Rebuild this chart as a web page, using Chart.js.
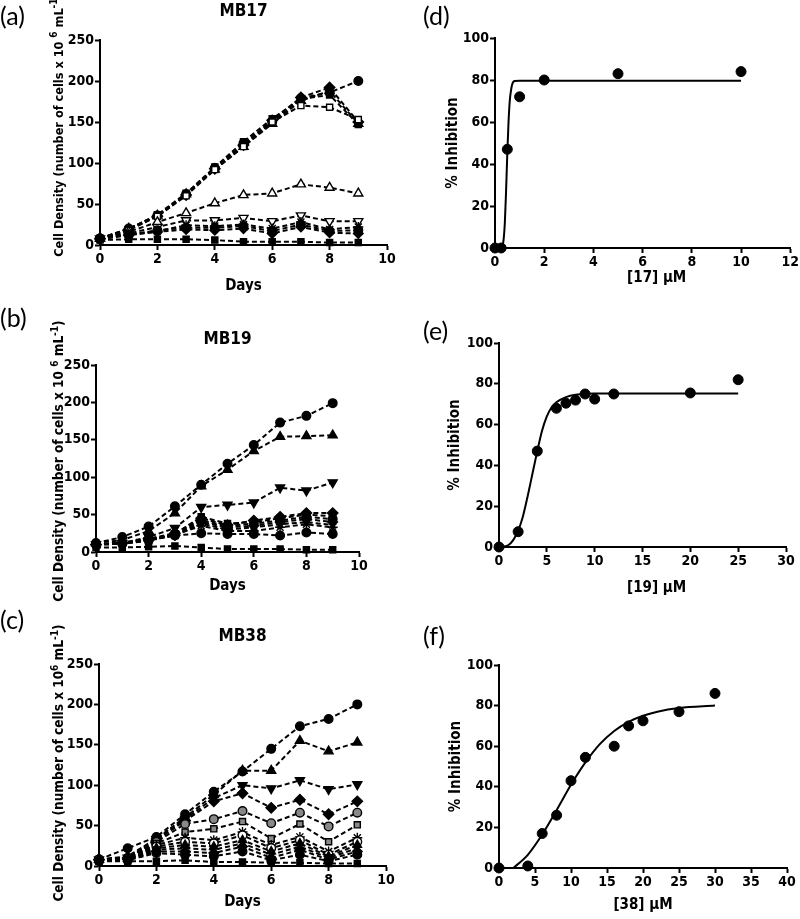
<!DOCTYPE html>
<html><head><meta charset="utf-8">
<script src="https://cdn.jsdelivr.net/npm/chart.js@4.4.1/dist/chart.umd.min.js"></script>
<style>
html,body{margin:0;padding:0;background:#fff;width:800px;height:919px;overflow:hidden;}
.panel{position:absolute;}
.lbl{position:absolute;font-family:Lato,'Open Sans',sans-serif;font-size:25px;color:#000;line-height:1;}
.ytitle{position:absolute;font:bold 13.5px 'DejaVu Sans Condensed','Liberation Sans',Arial,sans-serif;font-stretch:condensed;color:#000;white-space:nowrap;transform:translate(-50%,-50%) rotate(-90deg);}
.ytitle sup{font-size:10px;line-height:0;}
</style></head><body>
<div class="panel" style="left:0;top:0"><canvas id="ca" width="400" height="300"></canvas></div>
<div class="panel" style="left:0;top:300px"><canvas id="cb" width="400" height="300"></canvas></div>
<div class="panel" style="left:0;top:600px"><canvas id="cc" width="400" height="319"></canvas></div>
<div class="panel" style="left:400px;top:0"><canvas id="cd" width="400" height="300"></canvas></div>
<div class="panel" style="left:400px;top:300px"><canvas id="ce" width="400" height="300"></canvas></div>
<div class="panel" style="left:400px;top:600px"><canvas id="cf" width="400" height="319"></canvas></div>

<div class="lbl" style="left:0;top:3px">(a)</div>
<div class="lbl" style="left:0;top:305px">(b)</div>
<div class="lbl" style="left:0;top:607px">(c)</div>
<div class="lbl" style="left:423px;top:3px">(d)</div>
<div class="lbl" style="left:423px;top:318px">(e)</div>
<div class="lbl" style="left:423px;top:623px">(f)</div>

<div class="ytitle" style="left:58px;top:125px;font-size:12.6px">Cell Density (number of cells x 10 <sup>6</sup> mL<sup>-1</sup>)</div>
<div class="ytitle" style="left:58px;top:461px">Cell Density (number of cells x 10 <sup>6</sup> mL<sup>-1</sup>)</div>
<div class="ytitle" style="left:58px;top:763px">Cell Density (number of cells x 10<sup>6</sup> mL<sup>-1</sup>)</div>

<script>
// ---- shared axis values ----
const days = [0, 1, 2, 3, 4, 5, 6, 7, 8, 9];

// ---- (a) MB17 ----
const a_circle      = [8, 20, 36, 62, 94, 124, 150, 179, 186, 200];
const a_diamond     = [8, 19, 35, 61, 93, 122, 152, 180, 192, 150];
const a_triangle    = [8, 20, 36, 62, 92, 120, 148, 176, 188, 148];
const a_squareOpen  = [8, 18, 35, 60, 92, 120, 150, 170, 168, 153];
const a_square      = [8, 19, 37, 63, 95, 126, 154, 178, 183, 147];
const a_triOpen     = [8, 16, 28, 39, 51, 61, 63, 74, 70, 63];
const a_invTriOpen  = [8, 14, 22, 30, 30, 33, 29, 36, 29, 29];
const a_star        = [8, 13, 17, 24, 23, 25, 20, 28, 19, 22];
const a_circle2     = [8, 12, 18, 21, 21, 23, 17, 25, 17, 18];
const a_diamond2    = [7, 12, 16, 19, 18, 20, 14, 22, 15, 14];
const a_squareLow   = [6, 7, 7, 7, 6, 4, 4, 4, 3, 3];

// ---- (b) MB19 ----
const b_circle      = [12, 20, 34, 61, 90, 118, 143, 173, 182, 199];
const b_triangle    = [12, 16, 28, 52, 88, 110, 135, 154, 155, 156];
const b_invTri      = [10, 12, 20, 32, 60, 63, 66, 86, 82, 93];
const b_diamond     = [10, 12, 18, 25, 45, 36, 42, 47, 52, 52];
const b_s5          = [10, 12, 16, 24, 47, 38, 40, 45, 50, 48];
const b_s6          = [10, 12, 16, 24, 42, 35, 38, 42, 47, 44];
const b_s7          = [10, 12, 17, 22, 40, 33, 35, 40, 44, 40];
const b_s8          = [10, 11, 16, 22, 38, 30, 33, 37, 40, 36];
const b_star        = [10, 11, 15, 23, 35, 28, 28, 33, 37, 33];
const b_circle2     = [10, 11, 16, 22, 25, 24, 24, 22, 26, 24];
const b_squareLow   = [6, 6, 7, 8, 6, 4, 4, 4, 3, 3];

// ---- (c) MB38 ----
const c_circle      = [8, 22, 36, 64, 92, 117, 145, 173, 182, 200];
const c_triangle    = [8, 12, 34, 60, 88, 118, 118, 155, 142, 153];
const c_invTri      = [8, 10, 33, 58, 84, 100, 96, 106, 95, 101];
const c_diamond     = [8, 10, 32, 56, 80, 90, 72, 82, 64, 80];
const c_halfCircle  = [8, 10, 30, 52, 58, 68, 53, 66, 49, 66];
const c_halfSquare  = [8, 10, 28, 42, 46, 55, 34, 52, 30, 51];
const c_star        = [8, 10, 26, 35, 32, 42, 26, 36, 18, 35];
const c_s8          = [8, 9, 24, 30, 28, 38, 22, 32, 14, 30];
const c_s9          = [8, 9, 22, 26, 24, 32, 18, 28, 12, 26];
const c_s10         = [7, 8, 20, 22, 20, 28, 14, 24, 10, 22];
const c_s11         = [7, 8, 18, 18, 16, 24, 10, 20, 8, 18];
const c_s12         = [6, 7, 16, 14, 12, 18, 7, 14, 6, 14];
const c_squareLow   = [6, 6, 6, 7, 5, 5, 4, 4, 3, 3];

// ---- (d) compound 17 dose response ----
const d_conc  = [0, 0.25, 0.5, 1, 2, 5, 10];
const d_inhib = [0, 0, 47, 72, 80, 83, 84];
const d_fitX  = [0.2, 0.25, 0.3, 0.35, 0.4, 0.45, 0.5, 0.55, 0.6, 0.65, 0.7, 0.8, 1, 10];
const d_fitY  = [0, 0, 1, 4, 12, 27, 45, 60, 70, 75, 78, 79.5, 79.6, 79.6];

// ---- (e) compound 19 dose response ----
const e_conc  = [0, 2, 4, 6, 7, 8, 9, 10, 12, 20, 25];
const e_inhib = [0, 7.5, 47, 68, 70.5, 72, 75, 72.5, 75, 75.5, 82];
const e_fitX  = [0.3, 1, 1.5, 2, 2.5, 3, 3.5, 4, 4.5, 5, 5.5, 6, 7, 8, 10, 25];
const e_fitY  = [0, 1, 3.5, 8, 15, 25, 36, 47, 57, 64, 68.5, 71, 73.5, 74.6, 75.2, 75.3];

// ---- (f) compound 38 dose response ----
const f_conc  = [0, 4, 6, 8, 10, 12, 16, 18, 20, 25, 30];
const f_inhib = [0, 1, 17, 26, 43, 54.5, 60, 70, 72.5, 77, 86];
const f_fitX  = [2, 4, 6, 8, 10, 12, 14, 16, 18, 20, 22, 25, 30];
const f_fitY  = [0, 6.5, 16.5, 28.5, 41, 52, 61, 67.5, 72, 75, 77, 78.8, 80];

const FONT = "'DejaVu Sans Condensed', 'Liberation Sans', Arial, sans-serif";
Chart.defaults.font.family = FONT;
Chart.defaults.color = '#000';

function axis(min, max, step, titleText, lay, isX) {
  const o = {
    type: 'linear', min: min, max: max,
    border: {display: true, color: '#000', width: 2},
    grid: {display: true, drawOnChartArea: false, drawTicks: true, tickLength: 5, tickWidth: 2, tickColor: '#000', color: '#000'},
    ticks: {stepSize: step, color: '#000', font: {size: 14, weight: 'bold'}, padding: 1, maxRotation: 0, autoSkip: false},
    title: {display: !!titleText, text: titleText || '', color: '#000', font: {size: 15, weight: 'bold'}, padding: {top: 0, bottom: 0}}
  };
  if (isX) {
    o.title.padding = {top: 0, bottom: lay.xtB};
    o.afterFit = s => { s.height = lay.xH; };
  } else {
    o.title.padding = {top: lay.ytT || 0, bottom: 0};
    o.afterFit = s => { s.width = lay.yW; };
  }
  return o;
}

function timeChart(id, series, titleText, lay) {
  return new Chart(document.getElementById(id), {
    type: 'line',
    data: {datasets: series.map(s => ({
      data: days.map((d, i) => ({x: d, y: s.v[i]})),
      borderColor: '#000', borderWidth: 2, borderDash: [5, 3],
      pointStyle: s.p, pointRotation: s.rot || 0, pointRadius: s.r || 4.3,
      pointBackgroundColor: s.f || '#000', pointBorderColor: '#000', pointBorderWidth: 1.4,
      fill: false, tension: 0, clip: false
    }))},
    options: {
      responsive: false, animation: false, devicePixelRatio: 1,
      layout: {padding: {top: 0, left: 0, right: lay.padR, bottom: lay.padB}},
      plugins: {
        legend: {display: false}, tooltip: {enabled: false},
        title: {display: true, text: titleText, fullSize: false, color: '#000',
                font: {size: 17, weight: 'bold'}, padding: {top: lay.tT, bottom: lay.tB}}
      },
      scales: {
        x: axis(0, 10, 2, 'Days', lay, true),
        y: axis(0, 250, 50, null, lay, false)
      }
    }
  });
}

function doseChart(id, conc, inhib, fitX, fitY, xMax, xStep, xTitle, lay) {
  return new Chart(document.getElementById(id), {
    type: 'scatter',
    data: {datasets: [
      {data: fitX.map((x, i) => ({x: x, y: fitY[i]})), showLine: true, borderColor: '#000', borderWidth: 2,
       pointRadius: 0, cubicInterpolationMode: 'monotone', clip: false},
      {data: conc.map((x, i) => ({x: x, y: inhib[i]})), showLine: false, pointStyle: 'circle', pointRadius: 5,
       pointBackgroundColor: '#000', pointBorderColor: '#000', clip: false}
    ]},
    options: {
      responsive: false, animation: false, devicePixelRatio: 1,
      layout: {padding: {top: lay.padT, left: 0, right: lay.padR, bottom: lay.padB}},
      plugins: {legend: {display: false}, tooltip: {enabled: false}},
      scales: {
        x: axis(0, xMax, xStep, xTitle, lay, true),
        y: axis(0, 100, 20, '% Inhibition', lay, false)
      }
    }
  });
}

const W = '#fff', G = '#888';
timeChart('ca', [
  {v: a_squareLow, p: 'rect'},
  {v: a_diamond2, p: 'rectRot', r: 4.8},
  {v: a_circle2, p: 'circle'},
  {v: a_star, p: 'star', r: 5},
  {v: a_invTriOpen, p: 'triangle', rot: 180, f: W, r: 5.2},
  {v: a_triOpen, p: 'triangle', f: W, r: 5.2},
  {v: a_squareOpen, p: 'rect', f: W},
  {v: a_square, p: 'rect'},
  {v: a_triangle, p: 'triangle', r: 5.2},
  {v: a_diamond, p: 'rectRot', r: 5.2},
  {v: a_circle, p: 'circle'}
], 'MB17', {padR: 13, padB: 5, xH: 50, xtB: 0, tT: 1, tB: 18.6, yW: 100});

timeChart('cb', [
  {v: b_squareLow, p: 'rect'},
  {v: b_circle2, p: 'circle'},
  {v: b_star, p: 'star', r: 5},
  {v: b_s8, p: 'crossRot', r: 5},
  {v: b_s7, p: 'rectRot', r: 4.8},
  {v: b_s6, p: 'circle'},
  {v: b_s5, p: 'rect'},
  {v: b_diamond, p: 'rectRot', r: 5.2},
  {v: b_invTri, p: 'triangle', rot: 180, r: 5.2},
  {v: b_triangle, p: 'triangle', r: 5.2},
  {v: b_circle, p: 'circle'}
], 'MB19', {padR: 41, padB: 5, xH: 43, xtB: 0, tT: 29.8, tB: 14.8, yW: 96});

timeChart('cc', [
  {v: c_squareLow, p: 'rect'},
  {v: c_s12, p: 'circle'},
  {v: c_s11, p: 'rectRot', r: 4.8},
  {v: c_s10, p: 'crossRot', r: 5},
  {v: c_s9, p: 'triangle', r: 4.8},
  {v: c_s8, p: 'circle', f: W},
  {v: c_star, p: 'star', r: 5},
  {v: c_halfSquare, p: 'rect', f: G},
  {v: c_halfCircle, p: 'circle', f: G},
  {v: c_diamond, p: 'rectRot', r: 5.2},
  {v: c_invTri, p: 'triangle', rot: 180, r: 5.2},
  {v: c_triangle, p: 'triangle', r: 5.2},
  {v: c_circle, p: 'circle'}
], 'MB38', {padR: 14, padB: 5, xH: 48, xtB: 3, tT: 26.8, tB: 16.8, yW: 99});

doseChart('cd', d_conc, d_inhib, d_fitX, d_fitY, 12, 2, '      [17] \u03BCM',
  {padT: 38, padR: 8, padB: 5, xH: 47, xtB: 8, yW: 95, ytT: 44});
doseChart('ce', e_conc, e_inhib, e_fitX, e_fitY, 30, 5, '      [19] \u03BCM',
  {padT: 43, padR: 14, padB: 3, xH: 50, xtB: 0, yW: 99, ytT: 46});
doseChart('cf', f_conc, f_inhib, f_fitX, f_fitY, 40, 5, '[38] \u03BCM',
  {padT: 65, padR: 13, padB: 5, xH: 46, xtB: 0, yW: 99, ytT: 47});
</script>
</body></html>
